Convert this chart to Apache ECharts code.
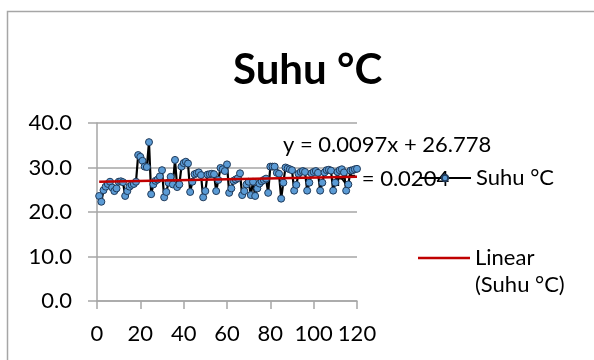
<!DOCTYPE html>
<html>
<head>
<meta charset="utf-8">
<script src="https://cdn.jsdelivr.net/npm/echarts@6/dist/echarts.min.js"></script>
<style>
  html,body{margin:0;padding:0;background:#fff;}
  #chart{width:594px;height:360px;}
</style>
</head>
<body>
<div id="chart"></div>
<script type="text/javascript">
// data
var titleText = 'Suhu °C';
var seriesName = 'Suhu °C';
var trendName = 'Linear (Suhu °C)';
var xTicks = [0, 20, 40, 60, 80, 100, 120];
var yTicks = [0, 10, 20, 30, 40];
var suhu = [
  23.6, 22.3, 24.9, 25.7, 26.3, 26.8, 25.5, 24.7, 25.3, 26.8,
  26.9, 26.7, 23.6, 24.7, 25.7, 26.1, 26.3, 26.8, 32.8, 32.4,
  31.5, 30.2, 30.1, 35.7, 24.0, 26.2, 27.0, 27.3, 28.0, 29.4,
  23.3, 24.5, 26.6, 27.9, 26.2, 31.7, 25.6, 26.2, 30.2, 31.0,
  31.3, 30.9, 24.5, 26.8, 28.5, 28.7, 28.9, 28.3, 23.3, 24.7,
  28.4, 28.5, 28.6, 28.5, 24.7, 27.2, 29.9, 29.6, 29.2, 30.7,
  24.3, 25.3, 27.0, 27.3, 27.6, 28.7, 23.8, 24.7, 26.2, 26.8,
  23.8, 26.8, 23.6, 25.3, 26.4, 26.9, 27.2, 27.5, 24.3, 30.2,
  30.2, 30.2, 28.8, 28.6, 23.0, 26.6, 30.0, 29.8, 29.6, 29.4,
  24.8, 26.1, 28.6, 29.0, 29.2, 29.0, 24.8, 26.6, 28.7, 29.0,
  29.2, 28.8, 24.8, 26.6, 28.9, 29.4, 29.5, 29.3, 24.8, 26.6,
  29.0, 29.4, 29.6, 28.9, 24.8, 26.2, 29.3, 29.4, 29.6, 29.7
];
// trendline as printed on the chart
var slope = 0.0097;
var intercept = 26.778;
var r2 = '0.0204';

var font = 'Lato, "Open Sans", sans-serif';

var points = [];
for (var i = 0; i < suhu.length; i++) {
  points.push([i + 1, suhu[i]]);
}
var trend = [
  [1, intercept + slope * 1],
  [suhu.length, intercept + slope * suhu.length]
];

var myChart = echarts.init(document.getElementById('chart'));

var option = {
  backgroundColor: '#fff',
  animation: false,
  title: {
    text: titleText,
    left: 228,
    top: 44,
    textStyle: {fontFamily: font, fontWeight: 'bold', fontSize: 42, color: '#000'}
  },
  legend: [
    {
      data: [seriesName],
      left: 413,
      top: 162,
      itemWidth: 52,
      itemHeight: 8,
      textStyle: {fontFamily: font, fontSize: 22, color: '#000'}
    },
    {
      data: [{name: trendName, icon: 'rect'}],
      left: 413,
      top: 242,
      itemWidth: 52,
      itemHeight: 2.5,
      itemStyle: {color: '#c00000'},
      formatter: function(name) { return 'Linear'; },
      textStyle: {fontFamily: font, fontSize: 22, color: '#000'}
    }
  ],
  grid: {left: 97, right: 237, top: 123, bottom: 59},
  xAxis: {
    type: 'value',
    min: xTicks[0],
    max: xTicks[xTicks.length - 1],
    interval: 20,
    axisLine: {show: true, lineStyle: {color: '#a6a6a6', width: 1.5}},
    axisTick: {show: true, inside: false, length: 8, lineStyle: {color: '#a6a6a6', width: 1.5}},
    splitLine: {show: false},
    axisLabel: {margin: 22, fontFamily: font, fontSize: 22, color: '#000'}
  },
  yAxis: {
    type: 'value',
    min: yTicks[0],
    max: yTicks[yTicks.length - 1],
    interval: 10,
    axisLine: {show: true, lineStyle: {color: '#a6a6a6', width: 1.5}},
    axisTick: {show: true, inside: false, length: 9, lineStyle: {color: '#a6a6a6', width: 1.5}},
    splitLine: {show: true, lineStyle: {color: '#a6a6a6', width: 1.5}},
    axisLabel: {
      margin: 25, fontFamily: font, fontSize: 22, color: '#000',
      formatter: function(v) { return v.toFixed(1); }
    }
  },
  graphic: [
    {
      type: 'rect',
      silent: true,
      shape: {x: 7.5, y: 11.5, width: 700, height: 500},
      style: {fill: 'none', stroke: '#a6a6a6', lineWidth: 1.5}
    },
    {
      type: 'text',
      left: 283, top: 134,
      style: {text: 'y = ' + slope + 'x + ' + intercept, font: '22px ' + font, fill: '#000'}
    },
    {
      type: 'text',
      left: 335, top: 168,
      style: {text: 'R² = ' + r2, font: '22px ' + font, fill: '#000'}
    },
    {
      type: 'text',
      left: 475, top: 274,
      style: {text: '(Suhu °C)', font: '22px ' + font, fill: '#000'}
    }
  ],
  series: [
    {
      name: seriesName,
      type: 'line',
      data: points,
      symbol: 'circle',
      symbolSize: 7,
      z: 3,
      lineStyle: {color: '#000', width: 2.2},
      itemStyle: {color: '#5b9bd5', borderColor: '#1f3a5a', borderWidth: 1}
    },
    {
      name: trendName,
      type: 'line',
      data: trend,
      symbol: 'none',
      z: 4,
      lineStyle: {color: '#c00000', width: 2.5},
      itemStyle: {color: '#c00000'}
    }
  ]
};

myChart.setOption(option);
</script>
</body>
</html>
